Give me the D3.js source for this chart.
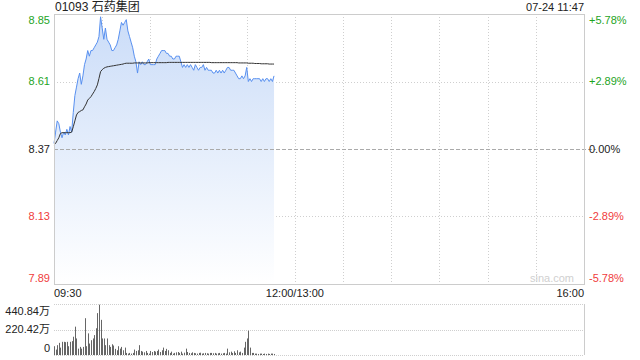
<!DOCTYPE html>
<html>
<head>
<meta charset="utf-8">
<script src="https://cdn.jsdelivr.net/npm/d3@7"></script>
<style>
  body { margin: 0; background: #fff; }
  text { font-family: Arial, "Liberation Sans", "Noto Sans CJK SC", sans-serif; }
</style>
</head>
<body>
<div id="chart"></div>
<script>
// data
let title = '01093 石药集团';
let stamp = '07-24 11:47';
let prevClose = 8.37;

let priceTicks = [8.85, 8.61, 8.37, 8.13, 7.89];
let pctTicks = ['+5.78%', '+2.89%', '0.00%', '-2.89%', '-5.78%'];
let volTicks = [440.84, 220.42, 0];
let volLabels = ['440.84万', '220.42万', '0'];
let timeTicks = [0, 150, 330];
let timeLabels = ['09:30', '12:00/13:00', '16:00'];

// one value per minute from 09:30
let prices = [
  8.39, 8.43, 8.47, 8.46, 8.43, 8.41, 8.43, 8.42, 8.44, 8.42,
  8.45, 8.43, 8.50, 8.56, 8.59, 8.62, 8.64, 8.60, 8.63, 8.67,
  8.69, 8.72, 8.70, 8.72, 8.72, 8.73, 8.74, 8.75, 8.77, 8.84,
  8.80, 8.76, 8.80, 8.76, 8.75, 8.74, 8.72, 8.72, 8.73, 8.74,
  8.76, 8.79, 8.82, 8.81, 8.82, 8.83, 8.79, 8.77, 8.75, 8.73,
  8.70, 8.68, 8.64, 8.68, 8.67, 8.68, 8.67, 8.67, 8.68, 8.69,
  8.67, 8.67, 8.67, 8.67, 8.69, 8.70, 8.71, 8.72, 8.72, 8.72,
  8.71, 8.71, 8.70, 8.70, 8.69, 8.69, 8.70, 8.70, 8.70, 8.68,
  8.66, 8.67, 8.66, 8.67, 8.66, 8.67, 8.66, 8.65, 8.67, 8.66,
  8.65, 8.66, 8.66, 8.67, 8.65, 8.66, 8.65, 8.65, 8.65, 8.64,
  8.64, 8.65, 8.64, 8.65, 8.64, 8.65, 8.64, 8.65, 8.66, 8.66,
  8.65, 8.65, 8.65, 8.64, 8.63, 8.62, 8.62, 8.63, 8.62, 8.63,
  8.66, 8.61, 8.62, 8.61, 8.62, 8.62, 8.62, 8.62, 8.62, 8.61,
  8.62, 8.61, 8.62, 8.62, 8.61, 8.62, 8.61, 8.63
];

let avgPrices = [
  8.384, 8.390, 8.400, 8.410, 8.425, 8.428, 8.428, 8.428, 8.428, 8.428,
  8.428, 8.430, 8.449, 8.470, 8.491, 8.500, 8.503, 8.507, 8.509, 8.520,
  8.530, 8.544, 8.550, 8.556, 8.565, 8.574, 8.585, 8.598, 8.621, 8.645,
  8.652, 8.657, 8.660, 8.662, 8.663, 8.664, 8.665, 8.666, 8.667, 8.668,
  8.669, 8.670, 8.671, 8.672, 8.674, 8.675, 8.675, 8.675, 8.675, 8.675,
  8.676, 8.676, 8.676, 8.676, 8.676, 8.676, 8.676, 8.676, 8.676, 8.677,
  8.677, 8.677, 8.677, 8.677, 8.677, 8.677, 8.677, 8.677, 8.677, 8.677,
  8.677, 8.678, 8.678, 8.678, 8.678, 8.678, 8.678, 8.678, 8.678, 8.678,
  8.678, 8.678, 8.678, 8.678, 8.678, 8.678, 8.678, 8.678, 8.678, 8.678,
  8.678, 8.678, 8.678, 8.678, 8.678, 8.678, 8.678, 8.678, 8.677, 8.677,
  8.677, 8.677, 8.677, 8.677, 8.677, 8.677, 8.677, 8.677, 8.677, 8.677,
  8.677, 8.677, 8.677, 8.677, 8.677, 8.676, 8.676, 8.676, 8.676, 8.676,
  8.676, 8.675, 8.675, 8.675, 8.675, 8.674, 8.674, 8.674, 8.674, 8.673,
  8.673, 8.673, 8.673, 8.673, 8.672, 8.672, 8.672, 8.672
];

// volume in 万 shares
let volumes = [
  76, 47, 85, 105, 64, 114, 114, 111, 114, 76,
  114, 120, 158, 245, 143, 55, 70, 55, 70, 318,
  76, 187, 99, 128, 143, 172, 231, 362, 435, 304,
  143, 143, 85, 143, 85, 70, 93, 82, 53, 41,
  76, 55, 70, 41, 64, 18, 12, 18, 12, 18,
  47, 35, 41, 85, 35, 29, 23, 35, 18, 12,
  35, 26, 35, 29, 35, 47, 26, 41, 64, 35,
  53, 41, 18, 29, 12, 18, 23, 26, 18, 29,
  12, 20, 55, 26, 18, 15, 23, 18, 15, 12,
  18, 20, 12, 15, 18, 15, 12, 18, 18, 15,
  18, 12, 15, 18, 12, 15, 18, 12, 55, 23,
  29, 18, 32, 18, 41, 23, 29, 18, 64, 114,
  143, 210, 64, 18, 18, 12, 12, 9, 12, 12,
  9, 12, 9, 12, 9, 12, 12, 9
];

let svgWidth = 640;
let svgHeight = 360;
let plot = { left: 54, right: 584, top: 14, bottom: 284 };
let volBox = { top: 304, bottom: 355 };

let green = '#1ea41e';
let red = '#f03c3c';
let grid = '#cfcfcf';

let svg = d3.select('#chart').append('svg')
  .attr('width', svgWidth)
  .attr('height', svgHeight);

let x = d3.scaleLinear().domain([0, 330]).range([plot.left, plot.right]);
let y = d3.scaleLinear().domain([7.89, 8.85]).range([plot.bottom, plot.top]);
let yVol = d3.scaleLinear().domain([0, 440.84]).range([volBox.bottom, volBox.top]);

// gradient for the area
let defs = svg.append('defs');
let grad = defs.append('linearGradient')
  .attr('id', 'areaFill')
  .attr('x1', 0).attr('y1', 0).attr('x2', 0).attr('y2', 1)
  .attr('gradientUnits', 'userSpaceOnUse')
  .attr('y1', plot.top).attr('y2', plot.bottom);
grad.append('stop').attr('offset', '0%').attr('stop-color', '#cadcf8');
grad.append('stop').attr('offset', '100%').attr('stop-color', '#ffffff');

// vertical grid, every 30 minutes
let gridMins = d3.range(30, 330, 30);
svg.append('g').selectAll('line')
  .data(gridMins)
  .enter()
  .append('line')
  .attr('x1', d => Math.round(x(d)) + 0.5)
  .attr('x2', d => Math.round(x(d)) + 0.5)
  .attr('y1', plot.top)
  .attr('y2', plot.bottom)
  .attr('stroke', grid)
  .attr('stroke-dasharray', '1,2');

// horizontal grid
svg.append('g').selectAll('line')
  .data([8.61, 8.13])
  .enter()
  .append('line')
  .attr('x1', plot.left)
  .attr('x2', plot.right)
  .attr('y1', d => Math.round(y(d)) + 0.5)
  .attr('y2', d => Math.round(y(d)) + 0.5)
  .attr('stroke', grid)
  .attr('stroke-dasharray', '1,2');

// price area + line
let area = d3.area()
  .x((d, i) => x(i))
  .y0(plot.bottom)
  .y1(d => y(d));
svg.append('path')
  .datum(prices)
  .attr('d', area)
  .attr('fill', 'url(#areaFill)');

// prev close line
svg.append('line')
  .attr('x1', plot.left)
  .attr('x2', plot.right + 12)
  .attr('y1', Math.round(y(prevClose)) + 0.5)
  .attr('y2', Math.round(y(prevClose)) + 0.5)
  .attr('stroke', '#aaa')
  .attr('stroke-dasharray', '4,2');

let line = d3.line()
  .x((d, i) => x(i))
  .y(d => y(d));
svg.append('path')
  .datum(prices)
  .attr('d', line)
  .attr('fill', 'none')
  .attr('stroke', '#5890f0')
  .attr('stroke-width', 1);

svg.append('path')
  .datum(avgPrices)
  .attr('d', line)
  .attr('fill', 'none')
  .attr('stroke', '#333')
  .attr('stroke-width', 1);

// border
svg.append('rect')
  .attr('x', plot.left + 0.5)
  .attr('y', plot.top + 0.5)
  .attr('width', plot.right - plot.left)
  .attr('height', plot.bottom - plot.top)
  .attr('fill', 'none')
  .attr('stroke', '#ccc');

// watermark
svg.append('text')
  .attr('x', 574)
  .attr('y', 282)
  .attr('text-anchor', 'end')
  .attr('font-size', '11px')
  .attr('fill', '#d0d0d0')
  .text('sina.com');

// left price labels
svg.append('g').selectAll('text')
  .data(priceTicks)
  .enter()
  .append('text')
  .attr('x', 50)
  .attr('y', (d, i) => y(d) + (i === 0 ? 6 : i === priceTicks.length - 1 ? -6 : 0))
  .attr('dy', '0.35em')
  .attr('text-anchor', 'end')
  .attr('font-size', '11px')
  .attr('fill', d => d > prevClose ? green : d < prevClose ? red : '#222')
  .text(d => d.toFixed(2));

// right pct labels
svg.append('g').selectAll('text')
  .data(pctTicks)
  .enter()
  .append('text')
  .attr('x', 589)
  .attr('y', (d, i) => y(priceTicks[i]) + (i === 0 ? 6 : i === pctTicks.length - 1 ? -6 : 0))
  .attr('dy', '0.35em')
  .attr('font-size', '11px')
  .attr('fill', d => d[0] === '+' ? green : d[0] === '-' ? red : '#222')
  .text(d => d);

// time labels
svg.append('g').selectAll('text')
  .data(timeTicks)
  .enter()
  .append('text')
  .attr('x', d => x(d))
  .attr('y', 293)
  .attr('dy', '0.35em')
  .attr('text-anchor', (d, i) => i === 0 ? 'start' : i === timeTicks.length - 1 ? 'end' : 'middle')
  .attr('font-size', '11px')
  .attr('fill', '#222')
  .text((d, i) => timeLabels[i]);

// title & timestamp
svg.append('text')
  .attr('x', plot.left + 1)
  .attr('y', 7)
  .attr('dy', '0.35em')
  .attr('font-size', '12px')
  .attr('fill', '#222')
  .text(title);

svg.append('text')
  .attr('x', plot.right)
  .attr('y', 7)
  .attr('dy', '0.35em')
  .attr('text-anchor', 'end')
  .attr('font-size', '11px')
  .attr('fill', '#222')
  .text(stamp);

// volume panel
svg.append('g').selectAll('line')
  .data(volTicks)
  .enter()
  .append('line')
  .attr('x1', plot.left)
  .attr('x2', plot.right)
  .attr('y1', d => Math.round(yVol(d)) + 0.5)
  .attr('y2', d => Math.round(yVol(d)) + 0.5)
  .attr('stroke', grid)
  .attr('stroke-dasharray', '1,1');

svg.append('line')
  .attr('x1', plot.right + 0.5)
  .attr('x2', plot.right + 0.5)
  .attr('y1', volBox.top)
  .attr('y2', volBox.bottom)
  .attr('stroke', '#ccc');

svg.append('g').selectAll('rect')
  .data(volumes)
  .enter()
  .append('rect')
  .attr('x', (d, i) => Math.round(x(i)))
  .attr('width', 1)
  .attr('y', d => yVol(d))
  .attr('height', d => volBox.bottom - yVol(d))
  .attr('fill', '#666');

svg.append('g').selectAll('text')
  .data(volTicks)
  .enter()
  .append('text')
  .attr('x', 50)
  .attr('y', (d, i) => yVol(d) + (i === 0 ? 7 : i === volTicks.length - 1 ? -7 : 0))
  .attr('dy', '0.35em')
  .attr('text-anchor', 'end')
  .attr('font-size', '11px')
  .attr('fill', '#222')
  .text((d, i) => volLabels[i]);
</script>
</body>
</html>
